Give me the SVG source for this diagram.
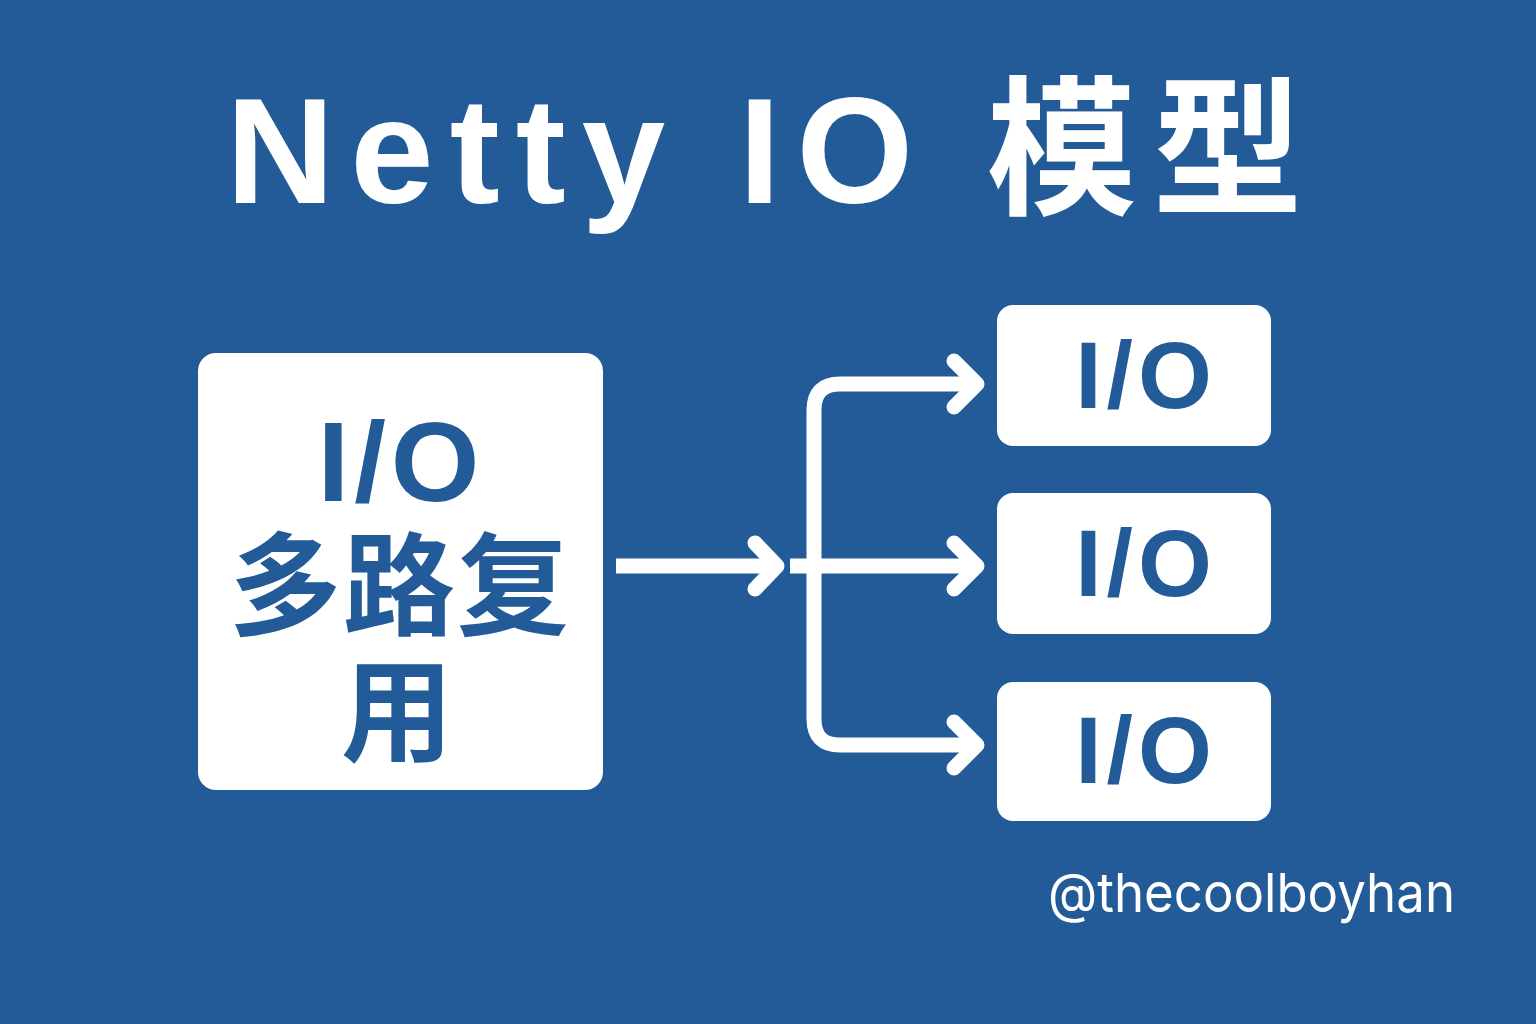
<svg xmlns="http://www.w3.org/2000/svg" width="1536" height="1024" viewBox="0 0 1536 1024">
  <style>
    .box { fill: #ffffff; }
    .lbl { fill: #225B98; font-family: "Liberation Sans", "Noto Sans CJK SC", sans-serif; font-weight: bold; text-anchor: middle; }
    .cjk { fill: #225B98; font-family: "Noto Sans CJK SC", sans-serif; font-weight: bold; text-anchor: middle; }
    .wire { fill: none; stroke: #ffffff; stroke-width: 15; stroke-linejoin: round; }
    .head { fill: none; stroke: #ffffff; stroke-width: 15; stroke-linecap: round; stroke-linejoin: round; }
  </style>
  <rect width="1536" height="1024" fill="#225B98"/>

  <text x="226" y="203" fill="#ffffff" font-family="Liberation Sans, 'Noto Sans CJK SC', sans-serif" font-weight="bold" font-size="150" letter-spacing="16">Netty IO 模型</text>

  <g id="mux">
    <rect class="box" x="198" y="353" width="405" height="437" rx="18"/>
    <text class="lbl" x="401" y="501" font-size="114" letter-spacing="5">I/O</text>
    <text class="cjk" x="400" y="627" font-size="112" letter-spacing="2">多路复</text>
    <text class="cjk" x="397" y="753" font-size="112">用</text>
  </g>

  <g id="io1">
    <rect class="box" x="997" y="305" width="274" height="141" rx="16"/>
    <text class="lbl" x="1146" y="408" font-size="95" letter-spacing="5">I/O</text>
  </g>
  <g id="io2">
    <rect class="box" x="997" y="493" width="274" height="141" rx="16"/>
    <text class="lbl" x="1146" y="596" font-size="95" letter-spacing="5">I/O</text>
  </g>
  <g id="io3">
    <rect class="box" x="997" y="682" width="274" height="139" rx="16"/>
    <text class="lbl" x="1146" y="783" font-size="95" letter-spacing="5">I/O</text>
  </g>

  <g id="connectors">
    <path class="wire" d="M616 566 H774"/>
    <path class="head" d="M755 543 L777 566 L755 589"/>
    <path class="wire" d="M790 566 H976"/>
    <path class="wire" d="M976 384 H840 Q814 384 814 410 V719 Q814 745 840 745 H976"/>
    <path class="head" d="M954 361 L977 384 L954 407"/>
    <path class="head" d="M954 543 L977 566 L954 589"/>
    <path class="head" d="M954 722 L977 745 L954 768"/>
  </g>

  <text x="1048" y="912" fill="#ffffff" font-family="Inter, 'Liberation Sans', sans-serif" font-size="54" textLength="407" lengthAdjust="spacingAndGlyphs">@thecoolboyhan</text>
</svg>
